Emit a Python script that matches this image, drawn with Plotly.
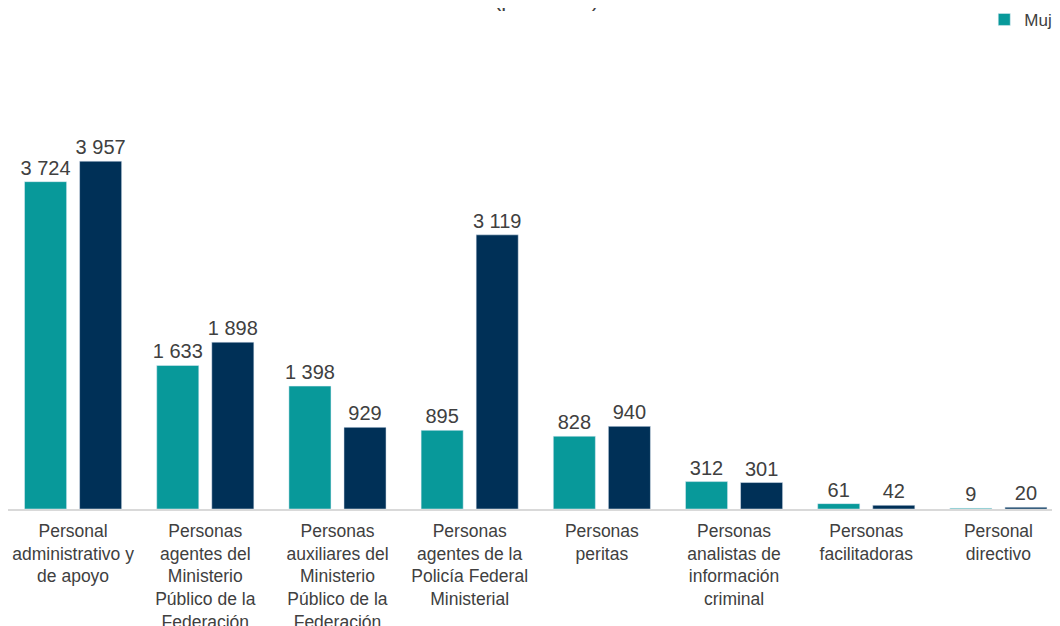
import plotly.graph_objects as go

categories = [
    "Personal<br>administrativo y<br>de apoyo",
    "Personas<br>agentes del<br>Ministerio<br>Público de la<br>Federación",
    "Personas<br>auxiliares del<br>Ministerio<br>Público de la<br>Federación",
    "Personas<br>agentes de la<br>Policía Federal<br>Ministerial",
    "Personas<br>peritas",
    "Personas<br>analistas de<br>información<br>criminal",
    "Personas<br>facilitadoras",
    "Personal<br>directivo",
]
mujeres = [3724, 1633, 1398, 895, 828, 312, 61, 9]
hombres = [3957, 1898, 929, 3119, 940, 301, 42, 20]


def fmt(v):
    return f"{v:,}".replace(",", " ")


font_family = "Liberation Sans, Arial, sans-serif"

fig = go.Figure()
fig.add_trace(go.Bar(
    x=categories, y=mujeres, name="Mujeres",
    marker=dict(color="#08999a"),
    text=[fmt(v) for v in mujeres], textposition="outside",
    textfont=dict(size=20, color="#404040"),
    constraintext="none", cliponaxis=False,
))
fig.add_trace(go.Bar(
    x=categories, y=hombres, name="Hombres",
    marker=dict(color="#003057"),
    text=[fmt(v) for v in hombres], textposition="outside",
    textfont=dict(size=20, color="#404040"),
    constraintext="none", cliponaxis=False,
))

# title sits mostly above the visible area
fig.add_annotation(
    text="(personas)", xref="paper", yref="paper", x=0.512, y=1.273,
    yanchor="middle", showarrow=False,
    font=dict(size=22, color="#404040", family=font_family),
)

fig.update_layout(
    width=1060, height=626,
    margin=dict(l=0, r=8, t=100, b=125),
    barmode="group", bargap=0.167, bargroupgap=0.236,
    plot_bgcolor="white", paper_bgcolor="white",
    font=dict(family=font_family, color="#404040"),
    showlegend=True,
    legend=dict(
        orientation="h", xref="container", yref="container",
        x=0.921, y=0.981, xanchor="left", yanchor="middle",
        font=dict(size=17, color="#404040"), itemwidth=30,
    ),
)
fig.update_xaxes(
    range=[-0.4924, 7.4656],
    showline=True, linecolor="#d9d9d9", linewidth=1.5,
    tickfont=dict(size=17.5, color="#404040"), ticks="",
    ticklabelstandoff=5, automargin=False,
)
fig.update_yaxes(range=[0, 4562], visible=False, showgrid=False,
                 automargin=False)

fig.write_html("out.html")
